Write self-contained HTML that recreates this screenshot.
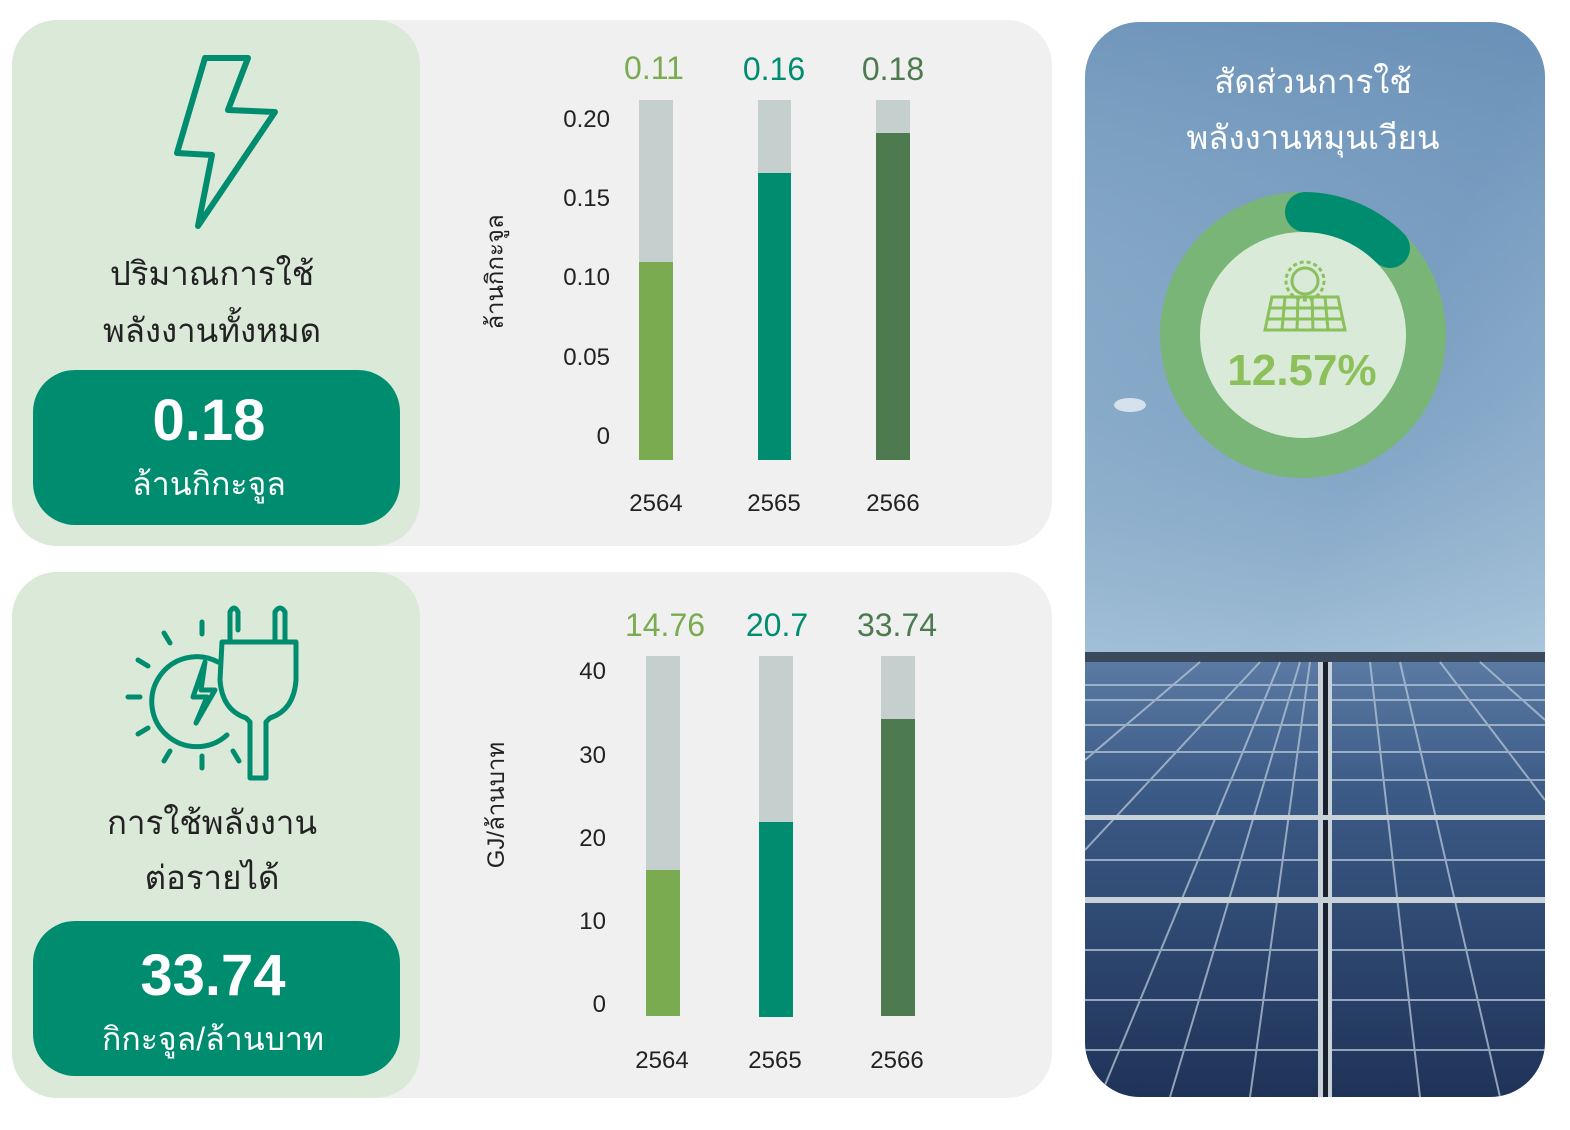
<!DOCTYPE html>
<html><head><meta charset="utf-8"><style>
body{margin:0;width:1570px;height:1130px;background:#fff;position:relative;overflow:hidden;font-family:"Liberation Sans","Noto Sans CJK SC",sans-serif}
.a{position:absolute}
.t{position:absolute;transform:translate(-50%,-50%);white-space:nowrap}
</style></head><body>
<svg class="a" style="left:0;top:0" width="1570" height="1130" font-family="Liberation Sans, Noto Sans CJK SC, sans-serif">
<defs>
<linearGradient id="sky" x1="0" y1="0" x2="1" y2="1">
<stop offset="0" stop-color="#8fb0cc"/><stop offset="0.5" stop-color="#7b9fc2"/><stop offset="1" stop-color="#a7c3da"/>
</linearGradient>
<linearGradient id="sky2" x1="0" y1="0" x2="0" y2="1">
<stop offset="0" stop-color="#5d86b0" stop-opacity="0.6"/><stop offset="0.5" stop-color="#7ea2c4" stop-opacity="0.2"/><stop offset="1" stop-color="#b8d2e2" stop-opacity="0.6"/>
</linearGradient>
<linearGradient id="pan" x1="0" y1="0" x2="0" y2="1">
<stop offset="0" stop-color="#5a7aa3"/><stop offset="0.3" stop-color="#3b5a86"/><stop offset="1" stop-color="#1f3358"/>
</linearGradient>
<clipPath id="rc"><rect x="1085" y="22" width="460" height="1075" rx="55"/></clipPath>
</defs>
<!-- cards -->
<rect x="12" y="20" width="1040" height="526" rx="45" fill="#f0f0f0"/>
<rect x="12" y="20" width="408" height="526" rx="45" fill="#dbe9d9"/>
<rect x="12" y="572" width="1040" height="526" rx="45" fill="#f0f0f0"/>
<rect x="12" y="572" width="408" height="526" rx="45" fill="#dbe9d9"/>
<rect x="33" y="370" width="367" height="155" rx="42" fill="#008c6e"/>
<rect x="33" y="921" width="367" height="155" rx="42" fill="#008c6e"/>
<!-- bolt icon -->
<polygon points="205,58 248,58 228,110 275,112 198,226 212,155 177,153" fill="none" stroke="#008c6e" stroke-width="6" stroke-linejoin="round"/>
<!-- plug icon -->
<g fill="none" stroke="#008c6e" stroke-width="5" stroke-linecap="round" stroke-linejoin="round">
<path d="M218,662 A45,45 0 1 0 227,735"/>
<polygon points="205,662 193,697 207,697 196,723 215,690 201,690" />
<line x1="202" y1="622" x2="202" y2="634"/><line x1="202" y1="756" x2="202" y2="768"/>
<line x1="128" y1="697" x2="140" y2="697"/>
<line x1="164" y1="633" x2="170" y2="643"/><line x1="138" y1="660" x2="148" y2="666"/>
<line x1="138" y1="734" x2="148" y2="728"/><line x1="164" y1="761" x2="170" y2="751"/>
<line x1="233" y1="751" x2="239" y2="761"/>
<path d="M230,642 L230,612 Q234,604 238,612 L238,630"/>
<path d="M275,642 L275,612 Q280,604 285,612 L285,642"/>
<path d="M222,642 L296,642 L296,680 Q294,710 270,718 L266,722 L266,778 L250,778 L250,722 L246,718 Q222,710 220,680 Z"/>
</g>
<!-- chart 1 -->
<g font-size="24" fill="#222">
<text x="610" y="127" text-anchor="end">0.20</text><text x="610" y="206" text-anchor="end">0.15</text>
<text x="610" y="285" text-anchor="end">0.10</text><text x="610" y="365" text-anchor="end">0.05</text>
<text x="610" y="444" text-anchor="end">0</text>
<text x="656" y="511" text-anchor="middle">2564</text><text x="774" y="511" text-anchor="middle">2565</text><text x="893" y="511" text-anchor="middle">2566</text>
<text transform="translate(503,272) rotate(-90)" text-anchor="middle" font-size="24">ล้านกิกะจูล</text>
</g>
<rect x="639" y="100" width="34" height="360" fill="#c5cfcd"/><rect x="639" y="262" width="34" height="198" fill="#7aab50"/>
<rect x="758" y="100" width="33" height="360" fill="#c5cfcd"/><rect x="758" y="173" width="33" height="287" fill="#008c6e"/>
<rect x="876" y="100" width="34" height="360" fill="#c5cfcd"/><rect x="876" y="133" width="34" height="327" fill="#4d7a4f"/>
<g font-size="32" text-anchor="middle">
<text x="654" y="79" fill="#7aab50">0.11</text><text x="774" y="80" fill="#008c6e">0.16</text><text x="893" y="80" fill="#4d7a4f">0.18</text>
</g>
<!-- chart 2 -->
<g font-size="24" fill="#222">
<text x="606" y="679" text-anchor="end">40</text><text x="606" y="763" text-anchor="end">30</text>
<text x="606" y="846" text-anchor="end">20</text><text x="606" y="929" text-anchor="end">10</text>
<text x="606" y="1012" text-anchor="end">0</text>
<text x="662" y="1068" text-anchor="middle">2564</text><text x="775" y="1068" text-anchor="middle">2565</text><text x="897" y="1068" text-anchor="middle">2566</text>
<text transform="translate(504,805) rotate(-90)" text-anchor="middle" font-size="24">GJ/ล้านบาท</text>
</g>
<rect x="646" y="656" width="34" height="360" fill="#c5cfcd"/><rect x="646" y="870" width="34" height="146" fill="#7aab50"/>
<rect x="759" y="656" width="34" height="361" fill="#c5cfcd"/><rect x="759" y="822" width="34" height="195" fill="#008c6e"/>
<rect x="881" y="656" width="34" height="360" fill="#c5cfcd"/><rect x="881" y="719" width="34" height="297" fill="#4d7a4f"/>
<g font-size="32" text-anchor="middle">
<text x="665" y="636" fill="#7aab50">14.76</text><text x="777" y="636" fill="#008c6e">20.7</text><text x="897" y="636" fill="#4d7a4f">33.74</text>
</g>
<!-- left texts -->
<g font-size="33" fill="#222" text-anchor="middle">
<text x="212" y="285">ปริมาณการใช้</text><text x="212" y="342">พลังงานทั้งหมด</text>
<text x="212" y="834">การใช้พลังงาน</text><text x="212" y="889">ต่อรายได้</text>
</g>
<g fill="#fff" text-anchor="middle">
<text x="209" y="440" font-size="58" font-weight="bold">0.18</text>
<text x="209" y="495" font-size="32">ล้านกิกะจูล</text>
<text x="213" y="995" font-size="58" font-weight="bold">33.74</text>
<text x="213" y="1050" font-size="32">กิกะจูล/ล้านบาท</text>
</g>
<!-- right panel -->
<g clip-path="url(#rc)">
<rect x="1085" y="22" width="460" height="1075" fill="url(#sky)"/>
<rect x="1085" y="22" width="460" height="640" fill="url(#sky2)"/>
<ellipse cx="1130" cy="405" rx="16" ry="7" fill="#e8f0f6" opacity="0.8"/>
<rect x="1085" y="652" width="460" height="10" fill="#3a4a5c"/>
<polygon points="1085,662 1545,662 1545,1097 1085,1097" fill="url(#pan)"/>
<g stroke="#b8c6d6" stroke-width="2" fill="none" opacity="0.75">
<line x1="1085" y1="685" x2="1545" y2="685"/><line x1="1085" y1="700" x2="1545" y2="700"/>
<line x1="1085" y1="725" x2="1545" y2="725"/><line x1="1085" y1="752" x2="1545" y2="752"/>
<line x1="1085" y1="780" x2="1545" y2="780"/><line x1="1085" y1="818" x2="1545" y2="818"/>
<line x1="1085" y1="860" x2="1545" y2="860"/><line x1="1085" y1="900" x2="1545" y2="900"/>
<line x1="1085" y1="950" x2="1545" y2="950"/><line x1="1085" y1="1000" x2="1545" y2="1000"/>
<line x1="1085" y1="1050" x2="1545" y2="1050"/>
<line x1="1260" y1="662" x2="1085" y2="850"/><line x1="1200" y1="662" x2="1085" y2="760"/>
<line x1="1300" y1="662" x2="1170" y2="1097"/><line x1="1310" y1="662" x2="1250" y2="1097"/>
<line x1="1370" y1="662" x2="1420" y2="1097"/><line x1="1400" y1="662" x2="1500" y2="1097"/>
<line x1="1440" y1="662" x2="1545" y2="800"/><line x1="1480" y1="662" x2="1545" y2="720"/>
<line x1="1280" y1="662" x2="1100" y2="1097"/>
</g>
<rect x="1318" y="662" width="14" height="435" fill="#c8d0d8"/>
<rect x="1323" y="662" width="5" height="435" fill="#1a2230"/>
<rect x="1085" y="815" width="460" height="5" fill="#c8d0d8"/>
<rect x="1085" y="897" width="460" height="6" fill="#c8d0d8"/>
</g>
<g font-size="33" fill="#fff" text-anchor="middle">
<text x="1313" y="93">สัดส่วนการใช้</text><text x="1313" y="149">พลังงานหมุนเวียน</text>
</g>
<circle cx="1303" cy="335" r="143" fill="#78b576"/>
<circle cx="1303" cy="335" r="103" fill="#d9ead8"/>
<path d="M1305,212 A123,123 0 0 1 1390,248" fill="none" stroke="#008c6e" stroke-width="40" stroke-linecap="round"/>
<g fill="none" stroke="#8bc05a" stroke-width="3">
<circle cx="1305" cy="281" r="13"/><circle cx="1305" cy="281" r="19" stroke-dasharray="4 3"/>
<polygon points="1272,297 1338,297 1345,330 1265,330"/>
<line x1="1270" y1="308" x2="1340" y2="308"/><line x1="1268" y1="319" x2="1342" y2="319"/>
<line x1="1285" y1="297" x2="1282" y2="330"/><line x1="1298" y1="297" x2="1297" y2="330"/>
<line x1="1312" y1="297" x2="1313" y2="330"/><line x1="1325" y1="297" x2="1328" y2="330"/>
</g>
<text x="1302" y="385" font-size="44" font-weight="bold" fill="#8bc05a" text-anchor="middle">12.57%</text>
</svg>
</body></html>
